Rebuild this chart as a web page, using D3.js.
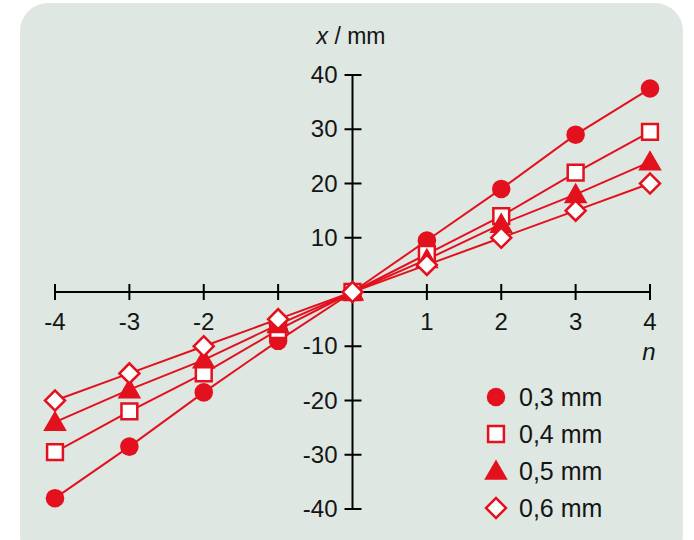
<!DOCTYPE html>
<html>
<head>
<meta charset="utf-8">
<script src="https://cdn.jsdelivr.net/npm/d3@7"></script>
<style>
  body { margin: 0; background: #fff; }
  svg { display: block; font-family: "Liberation Sans", Arial, sans-serif; }
</style>
</head>
<body>
<div id="chart"></div>
<script>
const nValues = [-4, -3, -2, -1, 0, 1, 2, 3, 4];
const xTicks = [-4, -3, -2, -1, 1, 2, 3, 4];
const yTicks = [-40, -30, -20, -10, 10, 20, 30, 40];
const seriesNames = ["0,3 mm", "0,4 mm", "0,5 mm", "0,6 mm"];
const s03 = [-38, -28.5, -18.5, -9, 0, 9.5, 19, 29, 37.5];
const s04 = [-29.5, -22, -15, -7, 0, 7, 14, 22, 29.5];
const s05 = [-24, -18, -12.5, -6, 0, 6, 12.5, 18, 24];
const s06 = [-20, -15, -10, -5, 0, 5, 10, 15, 20];

const red = "#e3101e";
const ink = "#151515";
const width = 694, height = 540;

const svg = d3.select("#chart")
  .append("svg")
  .attr("width", width)
  .attr("height", height);

// panel
svg.append("rect")
  .attr("x", 20).attr("y", 3)
  .attr("width", 663).attr("height", 560)
  .attr("rx", 28)
  .attr("fill", "#dee7e2");

const x = d3.scaleLinear().domain([-4, 4]).range([55, 650]);
const y = d3.scaleLinear().domain([-40, 40]).range([509, 75]);

// x axis
const gx = svg.append("g").attr("transform", `translate(0,${y(0)})`);
gx.append("line")
  .attr("x1", x(-4)).attr("x2", x(4))
  .attr("stroke", "#000").attr("stroke-width", 2);
gx.selectAll(".tick")
  .data(xTicks)
  .enter()
  .append("line")
  .attr("x1", d => x(d)).attr("x2", d => x(d))
  .attr("y1", -8).attr("y2", 8)
  .attr("stroke", "#000").attr("stroke-width", 2);
gx.selectAll(".lbl")
  .data(xTicks)
  .enter()
  .append("text")
  .attr("x", d => x(d))
  .attr("y", 38)
  .attr("text-anchor", "middle")
  .attr("font-size", 24)
  .attr("fill", ink)
  .text(d => d);

// y axis
const gy = svg.append("g").attr("transform", `translate(${x(0)},0)`);
gy.append("line")
  .attr("y1", y(40)).attr("y2", y(-40))
  .attr("stroke", "#000").attr("stroke-width", 2);
gy.selectAll(".tick")
  .data(yTicks)
  .enter()
  .append("line")
  .attr("x1", -8).attr("x2", 9)
  .attr("y1", d => y(d)).attr("y2", d => y(d))
  .attr("stroke", "#000").attr("stroke-width", 2);
gy.selectAll(".lbl")
  .data(yTicks)
  .enter()
  .append("text")
  .attr("x", -15)
  .attr("y", d => y(d) + 8)
  .attr("text-anchor", "end")
  .attr("font-size", 24)
  .attr("fill", ink)
  .text(d => d);

// axis titles
const yt = svg.append("text")
  .attr("x", 351).attr("y", 44)
  .attr("text-anchor", "middle")
  .attr("font-size", 23)
  .attr("fill", ink);
yt.append("tspan").attr("font-style", "italic").text("x");
yt.append("tspan").text(" / mm");

svg.append("text")
  .attr("x", 649).attr("y", 360)
  .attr("text-anchor", "middle")
  .attr("font-size", 24)
  .attr("font-style", "italic")
  .attr("fill", ink)
  .text("n");

// series
const series = [
  { name: seriesNames[0], values: s03, sym: d3.symbolCircle, size: 270, fill: red, sw: 0, rot: 0, dy: 0 },
  { name: seriesNames[1], values: s04, sym: d3.symbolSquare, size: 250, fill: "#fff", sw: 2.5, rot: 0, dy: 0 },
  { name: seriesNames[2], values: s05, sym: d3.symbolTriangle, size: 240, fill: red, sw: 0, rot: 0, dy: 2 },
  { name: seriesNames[3], values: s06, sym: d3.symbolSquare, size: 200, fill: "#fff", sw: 2.5, rot: 45, dy: 0 }
];

const line = d3.line()
  .x((d, i) => x(nValues[i]))
  .y(d => y(d));

series.forEach(s => {
  svg.append("path")
    .attr("d", line(s.values))
    .attr("fill", "none")
    .attr("stroke", red)
    .attr("stroke-width", 2);
});

series.forEach(s => {
  svg.selectAll(null)
    .data(s.values)
    .enter()
    .append("path")
    .attr("d", d3.symbol().type(s.sym).size(s.size))
    .attr("transform", (d, i) => `translate(${x(nValues[i])},${y(d) + s.dy}) rotate(${s.rot})`)
    .attr("fill", s.fill)
    .attr("stroke", red)
    .attr("stroke-width", s.sw);
});

// legend
const legend = svg.append("g").attr("transform", "translate(496,397)");
series.forEach((s, i) => {
  const g = legend.append("g").attr("transform", `translate(0,${i * 37})`);
  g.append("path")
    .attr("d", d3.symbol().type(s.sym).size(s.size))
    .attr("transform", `translate(0,${s.dy}) rotate(${s.rot})`)
    .attr("fill", s.fill)
    .attr("stroke", red)
    .attr("stroke-width", s.sw);
  g.append("text")
    .attr("x", 23)
    .attr("y", 9)
    .attr("font-size", 25)
    .attr("fill", ink)
    .text(s.name);
});
</script>
</body>
</html>
